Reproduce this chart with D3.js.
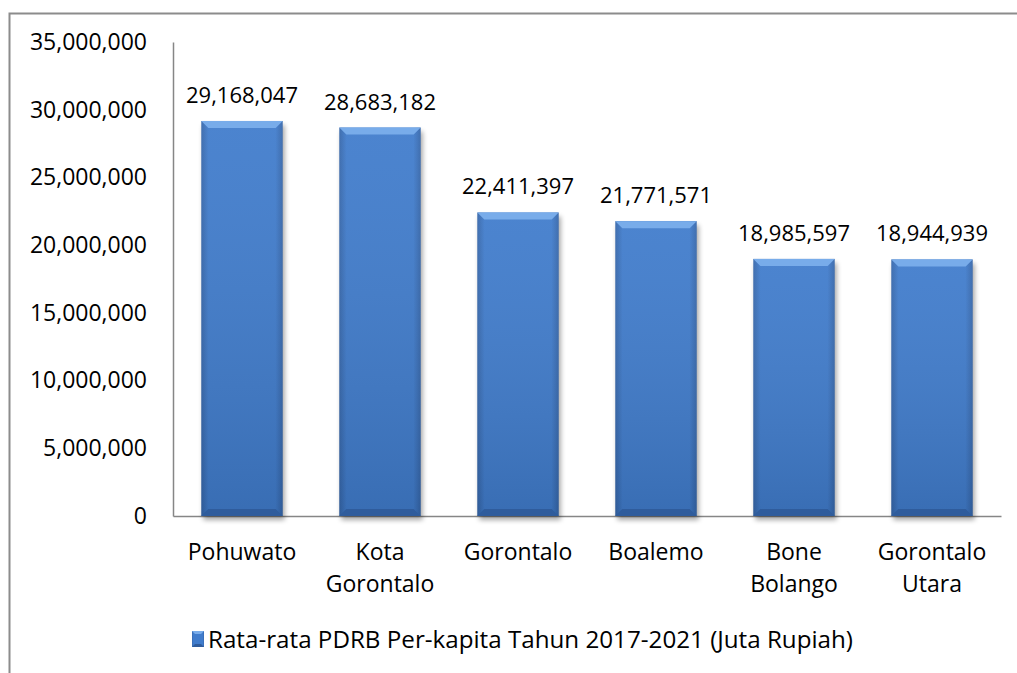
<!DOCTYPE html>
<html>
<head>
<meta charset="utf-8">
<script src="https://d3js.org/d3.v7.min.js"></script>
<style>
  body { margin: 0; background: #fff; }
  svg { display: block; font-family: "Open Sans", "Noto Sans", sans-serif; }
</style>
</head>
<body>
<div id="chart"></div>
<script>
// data
var categories = [["Pohuwato"], ["Kota", "Gorontalo"], ["Gorontalo"], ["Boalemo"], ["Bone", "Bolango"], ["Gorontalo", "Utara"]];
var values = [29168047, 28683182, 22411397, 21771571, 18985597, 18944939];
var yTicks = [0, 5000000, 10000000, 15000000, 20000000, 25000000, 30000000, 35000000];
var seriesName = "Rata-rata PDRB Per-kapita Tahun 2017-2021 (Juta Rupiah)";

var width = 1017, height = 673;
var fmt = d3.format(",");

var svg = d3.select("#chart").append("svg")
  .attr("width", width)
  .attr("height", height);

var defs = svg.append("defs");

// bar body gradient (sides a bit darker)
var gh = defs.append("linearGradient").attr("id", "gh").attr("x1", "0").attr("x2", "1").attr("y1", "0").attr("y2", "0");
gh.append("stop").attr("offset", "0%").attr("stop-color", "#3566aa");
gh.append("stop").attr("offset", "9%").attr("stop-color", "#407ccc");
gh.append("stop").attr("offset", "91%").attr("stop-color", "#407ccc");
gh.append("stop").attr("offset", "100%").attr("stop-color", "#3566aa");

var gv = defs.append("linearGradient").attr("id", "gv").attr("x1", "0").attr("x2", "0").attr("y1", "0").attr("y2", "1");
gv.append("stop").attr("offset", "0%").attr("stop-color", "#ffffff").attr("stop-opacity", 0.06);
gv.append("stop").attr("offset", "100%").attr("stop-color", "#000000").attr("stop-opacity", 0.12);

var shadow = defs.append("filter").attr("id", "sh").attr("x", "-20%").attr("y", "-20%").attr("width", "140%").attr("height", "140%");
shadow.append("feGaussianBlur").attr("stdDeviation", 2.5);

// frame
svg.append("rect")
  .attr("x", 9.5).attr("y", 13.5)
  .attr("width", 1100).attr("height", 700)
  .attr("fill", "none")
  .attr("stroke", "#8c8c8c")
  .attr("stroke-width", 2);

var y = d3.scaleLinear().domain([0, 35000000]).range([516, 42]);
var x = d3.scaleBand().domain(d3.range(categories.length)).range([173, 1001])
  .paddingInner(0.41).paddingOuter(0.205);

// y axis
var yAxis = svg.append("g")
  .attr("transform", "translate(173,0)")
  .call(d3.axisLeft(y).tickValues(yTicks).tickSize(0).tickPadding(26).tickFormat(fmt));
yAxis.select(".domain").attr("stroke", "#868686").attr("stroke-width", 1.5);
yAxis.selectAll("text").attr("font-size", 23).attr("fill", "#000").attr("font-family", "\"Open Sans\", sans-serif");

// x axis
var xAxis = svg.append("g")
  .attr("transform", "translate(0,516)")
  .call(d3.axisBottom(x).tickSize(0).tickFormat(""));
xAxis.select(".domain").attr("stroke", "#868686").attr("stroke-width", 1.5);

// bars
var bev = 7;
var bars = svg.append("g").selectAll("g.bar")
  .data(values)
  .join("g").attr("class", "bar");

bars.append("rect")
  .attr("x", function(d, i) { return x(i) + 2; })
  .attr("y", function(d) { return y(d) + 4; })
  .attr("width", x.bandwidth())
  .attr("height", function(d) { return y(0) - y(d); })
  .attr("fill", "#000").attr("opacity", 0.35)
  .attr("filter", "url(#sh)");

bars.append("rect")
  .attr("x", function(d, i) { return x(i); })
  .attr("y", function(d) { return y(d); })
  .attr("width", x.bandwidth())
  .attr("height", function(d) { return y(0) - y(d); })
  .attr("fill", "url(#gh)");

bars.append("rect")
  .attr("x", function(d, i) { return x(i); })
  .attr("y", function(d) { return y(d); })
  .attr("width", x.bandwidth())
  .attr("height", function(d) { return y(0) - y(d); })
  .attr("fill", "url(#gv)");

// top bevel
bars.append("path")
  .attr("d", function(d, i) {
    var x0 = x(i), x1 = x(i) + x.bandwidth(), t = y(d);
    return "M" + x0 + "," + t + "L" + x1 + "," + t + "L" + (x1 - bev) + "," + (t + bev) + "L" + (x0 + bev) + "," + (t + bev) + "Z";
  })
  .attr("fill", "#78acea");

// bottom bevel
bars.append("path")
  .attr("d", function(d, i) {
    var x0 = x(i), x1 = x(i) + x.bandwidth(), b = y(0);
    return "M" + x0 + "," + b + "L" + x1 + "," + b + "L" + (x1 - bev) + "," + (b - bev) + "L" + (x0 + bev) + "," + (b - bev) + "Z";
  })
  .attr("fill", "#2f5c9c");

// value labels
bars.append("text")
  .attr("x", function(d, i) { return x(i) + x.bandwidth() / 2; })
  .attr("y", function(d) { return y(d) - 18; })
  .attr("text-anchor", "middle")
  .attr("font-size", 22)
  .attr("fill", "#000")
  .text(function(d) { return fmt(d); });

// category labels
var cat = svg.append("g").selectAll("text")
  .data(categories)
  .join("text")
  .attr("text-anchor", "middle")
  .attr("font-size", 23)
  .attr("fill", "#000");
cat.selectAll("tspan")
  .data(function(d, i) { return d.map(function(s) { return { s: s, i: i }; }); })
  .join("tspan")
  .attr("x", function(d) { return x(d.i) + x.bandwidth() / 2; })
  .attr("y", function(d, j) { return 560 + j * 32; })
  .text(function(d) { return d.s; });

// legend
var lg = svg.append("g").attr("transform", "translate(192,631)");
lg.append("rect").attr("width", 12).attr("height", 16).attr("fill", "url(#gh)");
lg.append("path").attr("d", "M0,0L12,0L9,3L3,3Z").attr("fill", "#78acea");
lg.append("path").attr("d", "M0,16L12,16L9,13L3,13Z").attr("fill", "#2f5c9c");
lg.append("text")
  .attr("x", 16).attr("y", 17)
  .attr("font-size", 24)
  .attr("textLength", 645)
  .attr("lengthAdjust", "spacingAndGlyphs")
  .attr("fill", "#000")
  .text(seriesName);
</script>
</body>
</html>
